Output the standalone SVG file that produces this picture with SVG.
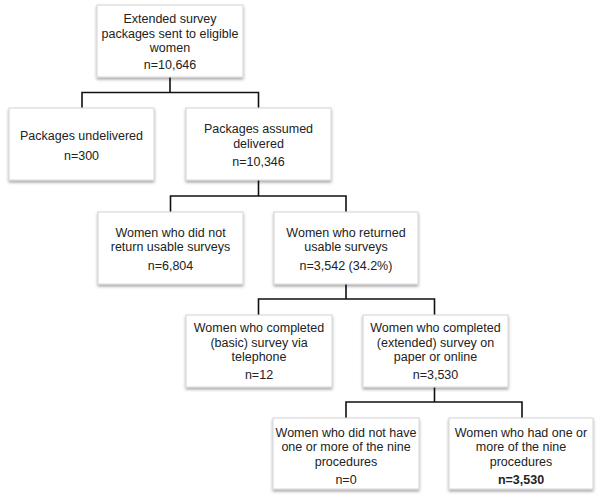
<svg xmlns="http://www.w3.org/2000/svg" width="600" height="497" viewBox="0 0 600 497">
<defs>
<filter id="sh" x="-10%" y="-10%" width="120%" height="130%">
<feDropShadow dx="0" dy="2" stdDeviation="1.5" flood-color="#000" flood-opacity="0.35"/>
</filter>
<style>
.box{fill:#fff;stroke:#d4d4d4;stroke-width:1;filter:url(#sh)}
text{font-family:"Liberation Sans",Arial,Helvetica,sans-serif;font-size:12.5px;fill:#222;text-anchor:middle}
.b{font-weight:bold}
.c{fill:none;stroke:#111;stroke-width:1.6}
</style>
</defs>
<rect width="600" height="497" fill="#fff"/>
<g id="connectors">
<path class="c" d="M170,77V92.5M82,92.5H258.5M82,91.7V108M258.5,91.7V108"/>
<path class="c" d="M258.5,180V196M170.5,196H346M170.5,195.2V212M346,195.2V212"/>
<path class="c" d="M346,284V299M258.5,299H434.5M258.5,298.2V315M434.5,298.2V315"/>
<path class="c" d="M434.5,387V402M346,402H522M346,401.2V418M522,401.2V418"/>
</g>
<g id="n1">
<rect class="box" x="97" y="5" width="146" height="72"/>
<text x="170" y="23">Extended survey</text>
<text x="170" y="37.5">packages sent to eligible</text>
<text x="170" y="52">women</text>
<text x="170" y="69">n=10,646</text>
</g>
<g id="n2">
<rect class="box" x="9" y="108" width="145" height="72"/>
<text x="81.5" y="139.5">Packages undelivered</text>
<text x="81.5" y="159.5">n=300</text>
</g>
<g id="n3">
<rect class="box" x="186" y="108" width="145" height="72"/>
<text x="258.5" y="133">Packages assumed</text>
<text x="258.5" y="147.5">delivered</text>
<text x="258.5" y="165.5">n=10,346</text>
</g>
<g id="n4">
<rect class="box" x="98" y="212" width="145" height="72"/>
<text x="170.5" y="236.5">Women who did not</text>
<text x="170.5" y="251">return usable surveys</text>
<text x="170.5" y="269.5">n=6,804</text>
</g>
<g id="n5">
<rect class="box" x="274" y="212" width="144" height="72"/>
<text x="346" y="236.5">Women who returned</text>
<text x="346" y="251">usable surveys</text>
<text x="346" y="269.5">n=3,542 (34.2%)</text>
</g>
<g id="n6">
<rect class="box" x="186" y="315" width="146" height="72"/>
<text x="259" y="332">Women who completed</text>
<text x="259" y="346.5">(basic) survey via</text>
<text x="259" y="361">telephone</text>
<text x="259" y="379">n=12</text>
</g>
<g id="n7">
<rect class="box" x="363" y="315" width="145" height="72"/>
<text x="435.5" y="332">Women who completed</text>
<text x="435.5" y="346.5">(extended) survey on</text>
<text x="435.5" y="361">paper or online</text>
<text x="435.5" y="379">n=3,530</text>
</g>
<g id="n8">
<rect class="box" x="273" y="418" width="146" height="71"/>
<text x="346" y="436.5">Women who did not have</text>
<text x="346" y="451">one or more of the nine</text>
<text x="346" y="465.5">procedures</text>
<text x="346" y="483.5">n=0</text>
</g>
<g id="n9">
<rect class="box" x="449" y="418" width="144" height="71"/>
<text x="521" y="436.5">Women who had one or</text>
<text x="521" y="451">more of the nine</text>
<text x="521" y="465.5">procedures</text>
<text class="b" x="521" y="483.5">n=3,530</text>
</g>
</svg>
